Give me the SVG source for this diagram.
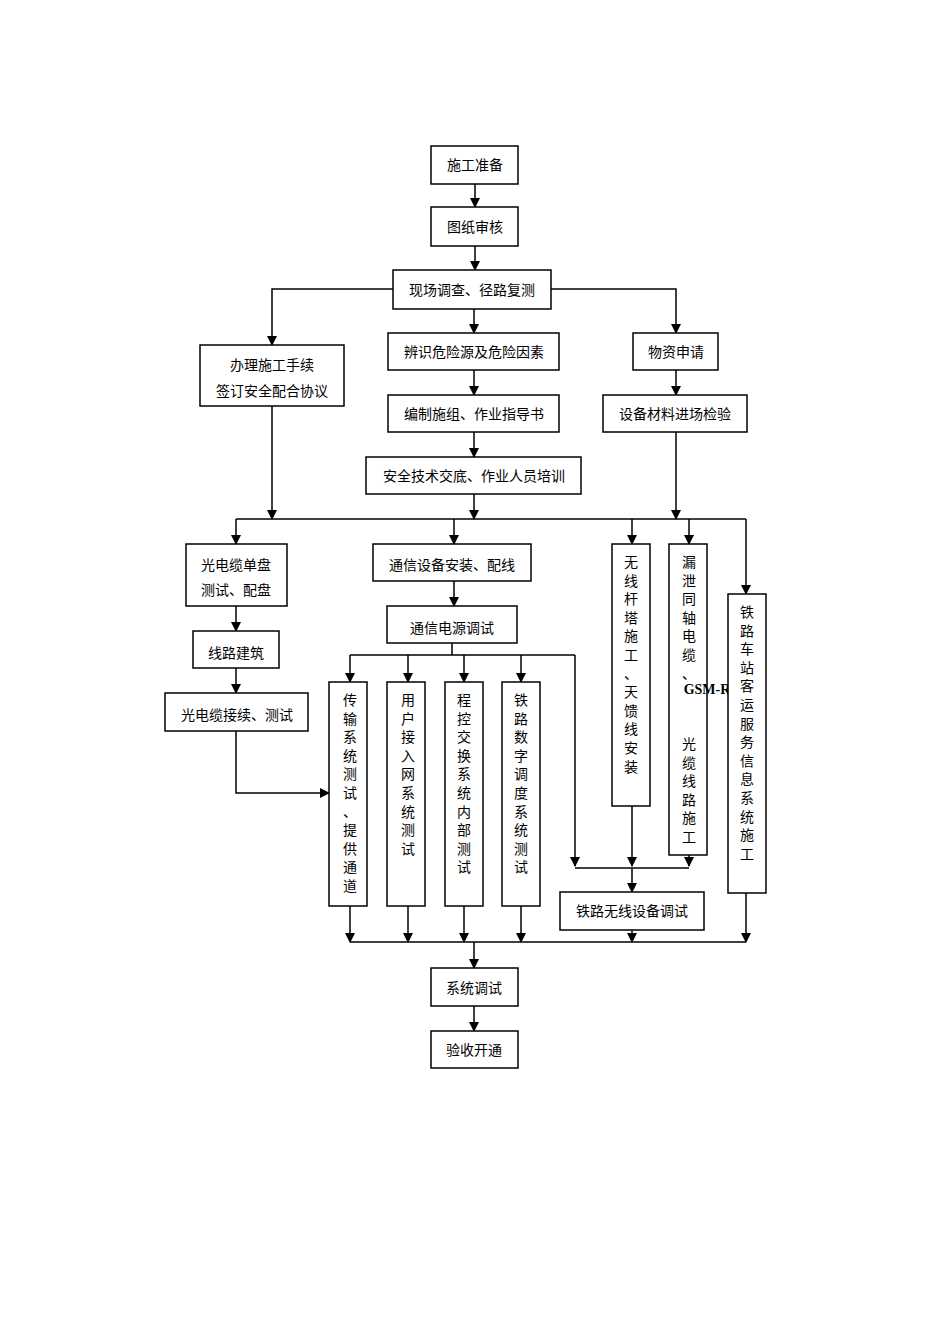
<svg xmlns="http://www.w3.org/2000/svg" width="950" height="1344" viewBox="0 0 950 1344">
<style>
rect{fill:#fff;stroke:#000;stroke-width:1.5}
.t{font-family:"Liberation Serif","Noto Sans CJK SC",serif;font-size:14px;text-anchor:middle}
path{fill:none;stroke:#000;stroke-width:1.5}
.a{marker-end:url(#ar)}
</style>
<defs><marker id="ar" markerWidth="10" markerHeight="10" refX="9" refY="5" orient="auto" markerUnits="userSpaceOnUse"><path d="M0,0L10,5L0,10z" style="fill:#000;stroke:none"/></marker></defs>
<rect width="950" height="1344" style="stroke:none"/>
<g id="connectors">
<path class="a" d="M475,184V207"/>
<path class="a" d="M475,246V270"/>
<path class="a" d="M393,289H272V345"/>
<path class="a" d="M551,289H676V333"/>
<path class="a" d="M474,309V333"/>
<path class="a" d="M474,370V395"/>
<path class="a" d="M474,432V457"/>
<path class="a" d="M676,370V395"/>
<path class="a" d="M272,406V519"/>
<path class="a" d="M474,494V519"/>
<path class="a" d="M676,432V519"/>
<path d="M236,519H746"/>
<path class="a" d="M236,519V544"/>
<path class="a" d="M454,519V544"/>
<path class="a" d="M632,519V544"/>
<path class="a" d="M689,519V544"/>
<path class="a" d="M746,519V594"/>
<path class="a" d="M236,606V631"/>
<path class="a" d="M236,668V693"/>
<path class="a" d="M236,731V793H329"/>
<path class="a" d="M454,581V606"/>
<path d="M452,643V655M350,655H575"/>
<path class="a" d="M350,655V682"/>
<path class="a" d="M408,655V682"/>
<path class="a" d="M464,655V682"/>
<path class="a" d="M521,655V682"/>
<path class="a" d="M575,655V866"/>
<path class="a" d="M632,806V866"/>
<path class="a" d="M689,855V866"/>
<path d="M575,868H689"/>
<path class="a" d="M632,868V892"/>
<path class="a" d="M350,906V942"/>
<path class="a" d="M408,906V942"/>
<path class="a" d="M464,906V942"/>
<path class="a" d="M521,906V942"/>
<path class="a" d="M632,930V942"/>
<path class="a" d="M746,893V942"/>
<path d="M350,942H746"/>
<path class="a" d="M474,942V968"/>
<path class="a" d="M474,1006V1031"/>
</g>
<g id="n1"><rect x="431" y="146" width="87" height="38"/><text class="t" x="475" y="170">施工准备</text></g>
<g id="n2"><rect x="431" y="207" width="87" height="39"/><text class="t" x="475" y="232">图纸审核</text></g>
<g id="n3"><rect x="393" y="270" width="158" height="39"/><text class="t" x="472" y="295">现场调查、径路复测</text></g>
<g id="n4"><rect x="200" y="345" width="144" height="61"/><text class="t" x="272" y="370">办理施工手续</text><text class="t" x="272" y="396">签订安全配合协议</text></g>
<g id="n5"><rect x="388" y="333" width="171" height="37"/><text class="t" x="474" y="357">辨识危险源及危险因素</text></g>
<g id="n6"><rect x="388" y="395" width="171" height="37"/><text class="t" x="474" y="419">编制施组、作业指导书</text></g>
<g id="n7"><rect x="366" y="457" width="215" height="37"/><text class="t" x="474" y="481">安全技术交底、作业人员培训</text></g>
<g id="n8"><rect x="633" y="333" width="85" height="37"/><text class="t" x="676" y="357">物资申请</text></g>
<g id="n9"><rect x="603" y="395" width="144" height="37"/><text class="t" x="675" y="419">设备材料进场检验</text></g>
<g id="n10"><rect x="186" y="544" width="101" height="62"/><text class="t" x="236" y="570">光电缆单盘</text><text class="t" x="236" y="595">测试、配盘</text></g>
<g id="n11"><rect x="193" y="631" width="86" height="37"/><text class="t" x="236" y="658">线路建筑</text></g>
<g id="n12"><rect x="165" y="693" width="143" height="38"/><text class="t" x="237" y="720">光电缆接续、测试</text></g>
<g id="n13"><rect x="373" y="544" width="158" height="37"/><text class="t" x="452" y="570">通信设备安装、配线</text></g>
<g id="n14"><rect x="387" y="606" width="130" height="37"/><text class="t" x="452" y="633">通信电源调试</text></g>
<g id="n15"><rect x="329" y="682" width="38" height="224"/><text class="t" x="350" y="705">传<tspan x="350" dy="18.6">输</tspan><tspan x="350" dy="18.6">系</tspan><tspan x="350" dy="18.6">统</tspan><tspan x="350" dy="18.6">测</tspan><tspan x="350" dy="18.6">试</tspan><tspan x="350" dy="18.6">、</tspan><tspan x="350" dy="18.6">提</tspan><tspan x="350" dy="18.6">供</tspan><tspan x="350" dy="18.6">通</tspan><tspan x="350" dy="18.6">道</tspan></text></g>
<g id="n16"><rect x="387" y="682" width="38" height="224"/><text class="t" x="408" y="705">用<tspan x="408" dy="18.6">户</tspan><tspan x="408" dy="18.6">接</tspan><tspan x="408" dy="18.6">入</tspan><tspan x="408" dy="18.6">网</tspan><tspan x="408" dy="18.6">系</tspan><tspan x="408" dy="18.6">统</tspan><tspan x="408" dy="18.6">测</tspan><tspan x="408" dy="18.6">试</tspan></text></g>
<g id="n17"><rect x="445" y="682" width="38" height="224"/><text class="t" x="464" y="705">程<tspan x="464" dy="18.6">控</tspan><tspan x="464" dy="18.6">交</tspan><tspan x="464" dy="18.6">换</tspan><tspan x="464" dy="18.6">系</tspan><tspan x="464" dy="18.6">统</tspan><tspan x="464" dy="18.6">内</tspan><tspan x="464" dy="18.6">部</tspan><tspan x="464" dy="18.6">测</tspan><tspan x="464" dy="18.6">试</tspan></text></g>
<g id="n18"><rect x="502" y="682" width="38" height="224"/><text class="t" x="521" y="705">铁<tspan x="521" dy="18.6">路</tspan><tspan x="521" dy="18.6">数</tspan><tspan x="521" dy="18.6">字</tspan><tspan x="521" dy="18.6">调</tspan><tspan x="521" dy="18.6">度</tspan><tspan x="521" dy="18.6">系</tspan><tspan x="521" dy="18.6">统</tspan><tspan x="521" dy="18.6">测</tspan><tspan x="521" dy="18.6">试</tspan></text></g>
<g id="n19"><rect x="612" y="544" width="38" height="262"/><text class="t" x="631" y="567">无<tspan x="631" dy="18.6">线</tspan><tspan x="631" dy="18.6">杆</tspan><tspan x="631" dy="18.6">塔</tspan><tspan x="631" dy="18.6">施</tspan><tspan x="631" dy="18.6">工</tspan><tspan x="631" dy="18.6">、</tspan><tspan x="631" dy="18.6">天</tspan><tspan x="631" dy="18.6">馈</tspan><tspan x="631" dy="18.6">线</tspan><tspan x="631" dy="18.6">安</tspan><tspan x="631" dy="18.6">装</tspan></text></g>
<g id="n20"><rect x="669" y="544" width="38" height="311"/><text class="t" x="689" y="567">漏<tspan x="689" dy="18.6">泄</tspan><tspan x="689" dy="18.6">同</tspan><tspan x="689" dy="18.6">轴</tspan><tspan x="689" dy="18.6">电</tspan><tspan x="689" dy="18.6">缆</tspan><tspan x="689" dy="18.6">、</tspan></text><text x="707" y="694" style="font-family:'Liberation Serif',serif;font-size:14px;font-weight:bold;text-anchor:middle">GSM-R</text><text class="t" x="689" y="749">光<tspan x="689" dy="18.6">缆</tspan><tspan x="689" dy="18.6">线</tspan><tspan x="689" dy="18.6">路</tspan><tspan x="689" dy="18.6">施</tspan><tspan x="689" dy="18.6">工</tspan></text></g>
<g id="n21"><rect x="728" y="594" width="38" height="299"/><text class="t" x="747" y="617">铁<tspan x="747" dy="18.6">路</tspan><tspan x="747" dy="18.6">车</tspan><tspan x="747" dy="18.6">站</tspan><tspan x="747" dy="18.6">客</tspan><tspan x="747" dy="18.6">运</tspan><tspan x="747" dy="18.6">服</tspan><tspan x="747" dy="18.6">务</tspan><tspan x="747" dy="18.6">信</tspan><tspan x="747" dy="18.6">息</tspan><tspan x="747" dy="18.6">系</tspan><tspan x="747" dy="18.6">统</tspan><tspan x="747" dy="18.6">施</tspan><tspan x="747" dy="18.6">工</tspan></text></g>
<g id="n22"><rect x="560" y="892" width="144" height="38"/><text class="t" x="632" y="916">铁路无线设备调试</text></g>
<g id="n23"><rect x="431" y="968" width="87" height="38"/><text class="t" x="474" y="993">系统调试</text></g>
<g id="n24"><rect x="431" y="1031" width="87" height="37"/><text class="t" x="474" y="1055">验收开通</text></g>
</svg>
